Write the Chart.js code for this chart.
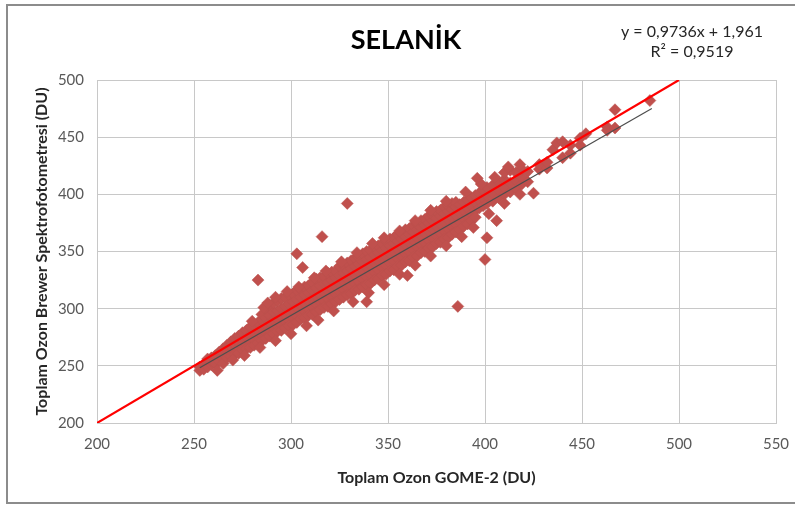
<!DOCTYPE html>
<html lang="tr">
<head>
<meta charset="UTF-8">
<title>Selanik - Toplam Ozon</title>
<script src="https://cdn.jsdelivr.net/npm/chart.js"></script>
<style>
  html, body { margin: 0; padding: 0; background: #fff; }
  #wrap { width: 795px; height: 506px; position: relative; }
</style>
</head>
<body>
<div id="wrap"><canvas id="ozonChart" width="795" height="506"></canvas></div>
<script>
// GOME-2 values and the Brewer readings seen at each of them
const gomeOzone = [253, 255, 257, 259, 261, 263, 265, 267, 269, 271, 273, 275, 277, 279, 281, 283,
  285, 287, 289, 291, 293, 295, 297, 299, 301, 303, 305, 307, 309, 311, 313, 315, 317, 319, 321,
  323, 325, 327, 329, 331, 333, 335, 337, 339, 341, 343, 345, 347, 349, 351, 353, 355, 357, 359,
  361, 363, 365, 367, 369, 371, 373, 375, 377, 379, 381, 383, 385, 387, 389, 391, 393, 395, 397,
  399, 401, 404, 407, 410, 413, 416, 419, 422, 425, 428, 432, 435, 437, 440, 444, 449, 452, 463,
  467, 485];
const brewerOzone = [
  [246, 249], [251, 247], [253, 249, 256], [251, 257, 254], [255, 259, 252], [258, 254, 262],
  [256, 261, 265, 252], [260, 264, 257, 268], [262, 267, 258, 271], [263, 269, 274, 260],
  [266, 271, 261, 276], [268, 273, 264, 279], [269, 275, 281, 265], [272, 277, 266, 284],
  [273, 279, 285, 268], [276, 281, 270, 288], [277, 283, 290, 272, 295], [279, 286, 292, 274, 300],
  [281, 288, 294, 276, 303], [283, 290, 297, 278, 305], [285, 291, 298, 280, 307],
  [286, 293, 300, 281, 309], [289, 295, 302, 283, 310], [290, 297, 304, 285, 312],
  [292, 299, 306, 286, 313], [294, 301, 308, 288, 316], [296, 303, 310, 291, 317],
  [298, 305, 312, 292, 319], [300, 307, 314, 294, 320], [302, 309, 316, 295, 323],
  [304, 311, 318, 297, 326], [306, 312, 320, 299, 327], [307, 314, 322, 301, 328],
  [309, 316, 323, 302, 331], [311, 318, 325, 304, 332], [313, 320, 327, 306, 333],
  [315, 322, 329, 308, 337], [317, 324, 331, 310, 338], [319, 326, 333, 312, 340],
  [320, 328, 335, 313, 342], [322, 330, 337, 316, 344], [324, 332, 339, 317, 345],
  [326, 334, 341, 319, 348], [328, 336, 343, 321, 350], [330, 338, 345, 322, 351],
  [332, 340, 347, 325, 354], [334, 342, 349, 326, 355], [336, 344, 351, 329, 357],
  [338, 346, 353, 330, 359], [340, 348, 355, 333, 361], [342, 350, 357, 334, 362],
  [344, 352, 359, 337, 365], [346, 354, 361, 338, 366], [348, 356, 363, 341, 369],
  [350, 358, 365, 342, 370], [352, 360, 367, 345, 373], [354, 362, 369, 346, 374],
  [356, 364, 371, 349, 377], [358, 366, 373, 350, 378], [360, 368, 375, 353, 381],
  [362, 370, 377, 354, 382], [364, 372, 379, 357, 385], [366, 374, 381, 358, 386],
  [368, 376, 383, 361, 389], [370, 378, 385, 362, 390], [372, 380, 387, 365, 392],
  [374, 382, 389, 367, 393], [376, 384, 391, 369], [379, 386, 393, 372], [381, 388, 395, 374],
  [383, 390, 397, 377], [386, 393, 399, 380], [388, 395, 401], [390, 397, 404], [392, 399, 406],
  [394, 401, 408], [397, 404, 411], [400, 406, 413, 419], [402, 410, 421], [405, 412, 419],
  [409, 415, 422], [411, 420], [401], [422, 426], [423, 428], [439], [445], [446, 432],
  [436, 443], [443, 449], [453], [459, 456], [474, 458], [482]
];
// ragged points along the upper and lower edge of the band
const edgeGome = [280, 286, 292, 298, 304, 312, 318, 326, 334, 342, 348, 356, 364, 372, 380,
  390, 398, 405, 412, 418, 262, 270, 276, 284, 292, 300, 308, 314, 322, 332, 340, 348, 356, 364,
  372, 380, 388, 394, 402, 410, 418];
const edgeBrewer = [289, 301, 310, 315, 319, 327, 333, 341, 349, 357, 362, 368, 377, 386, 394,
  402, 409, 415, 424, 426, 246, 255, 259, 266, 272, 278, 285, 290, 298, 306, 314, 321, 330, 338,
  346, 355, 363, 371, 383, 392, 400];
// points that lie away from the main band
const outlierGome = [283, 288, 303, 306, 316, 329, 339, 360, 386, 396, 400, 401, 406];
const outlierBrewer = [325, 305, 348, 336, 363, 392, 306, 329, 302, 414, 343, 362, 377];

// Excel trendline and the y = x reference line
const trendSlope = 0.9736;
const trendIntercept = 1.961;
const trendRange = [253, 486];
const refRange = [200, 500];
const equationText = ['y = 0,9736x + 1,961', 'R² = 0,9519'];
const chartTitle = 'SELANİK';

const scatterPts = [];
gomeOzone.forEach((g, i) => brewerOzone[i].forEach(b => scatterPts.push({ x: g, y: b })));
edgeGome.forEach((g, i) => scatterPts.push({ x: g, y: edgeBrewer[i] }));
outlierGome.forEach((g, i) => scatterPts.push({ x: g, y: outlierBrewer[i] }));

const trendPts = trendRange.map(x => ({ x: x, y: trendSlope * x + trendIntercept }));
const refPts = refRange.map(v => ({ x: v, y: v }));

const FONT = 'Lato, "Open Sans", sans-serif';

const decor = {
  id: 'decor',
  beforeDraw(chart) {
    const ctx = chart.ctx;
    ctx.save();
    ctx.strokeStyle = '#8c8c8c';
    ctx.lineWidth = 2;
    ctx.strokeRect(7, 5, 800, 498);
    ctx.restore();
  },
  afterDraw(chart) {
    const ctx = chart.ctx;
    ctx.save();
    ctx.textAlign = 'center';
    ctx.textBaseline = 'middle';
    ctx.fillStyle = '#000';
    ctx.font = 'bold 27px ' + FONT;
    ctx.fillText(chartTitle, 406, 40);
    ctx.fillStyle = '#262626';
    ctx.font = '16px ' + FONT;
    ctx.fillText(equationText[0], 692, 32);
    ctx.fillText(equationText[1], 692, 52);
    ctx.restore();
  }
};

new Chart(document.getElementById('ozonChart'), {
  type: 'scatter',
  data: {
    datasets: [
      {
        type: 'line',
        data: refPts,
        borderColor: '#ff0000',
        borderWidth: 2.2,
        pointRadius: 0,
        fill: false
      },
      {
        type: 'line',
        data: trendPts,
        borderColor: '#4d4d4d',
        borderWidth: 1.2,
        pointRadius: 0,
        fill: false
      },
      {
        data: scatterPts,
        pointStyle: 'rectRot',
        pointRadius: 6,
        backgroundColor: '#c0504d',
        borderColor: '#b9504d',
        borderWidth: 0.5
      }
    ]
  },
  options: {
    responsive: false,
    animation: false,
    layout: { padding: { left: 28, top: 80, right: 19, bottom: 0 } },
    plugins: { legend: { display: false }, tooltip: { enabled: false } },
    scales: {
      x: {
        type: 'linear',
        min: 200,
        max: 550,
        ticks: { stepSize: 50, padding: 12, color: '#595959', font: { family: FONT, size: 15 } },
        grid: { color: '#c8c8c8', drawTicks: false },
        border: { color: '#c8c8c8' },
        title: {
          display: true,
          text: 'Toplam Ozon GOME-2 (DU)',
          color: '#262626',
          font: { family: FONT, size: 16, weight: 'bold' },
          padding: { top: 0, bottom: 19 }
        },
        afterFit(scale) {
          scale.height = 83;
          scale.paddingLeft = 0;
          scale.paddingRight = 0;
        }
      },
      y: {
        min: 200,
        max: 500,
        ticks: { stepSize: 50, padding: 13, color: '#595959', font: { family: FONT, size: 15 } },
        grid: { color: '#c8c8c8', drawTicks: false },
        border: { color: '#c8c8c8' },
        title: {
          display: true,
          text: 'Toplam Ozon Brewer Spektrofotometresi (DU)',
          color: '#262626',
          font: { family: FONT, size: 16, weight: 'bold' },
          padding: { top: 4, bottom: 0 }
        },
        afterFit(scale) {
          scale.width = 69;
          scale.paddingTop = 0;
          scale.paddingBottom = 0;
        }
      }
    }
  },
  plugins: [decor]
});
</script>
</body>
</html>
